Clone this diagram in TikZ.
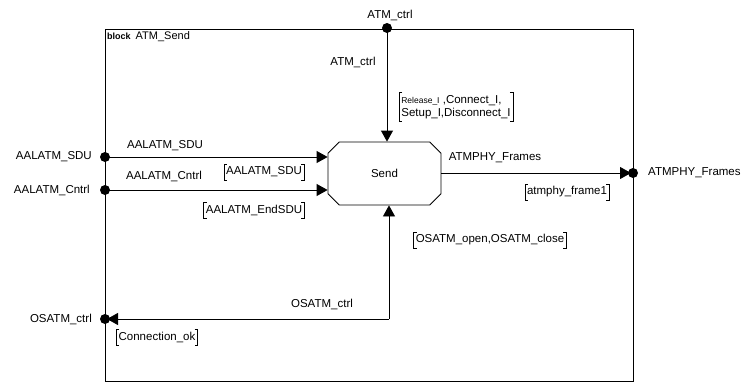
\documentclass[tikz,border=0pt]{standalone}
\usepackage{fontspec}
\setmainfont{Liberation Sans}
\usetikzlibrary{arrows.meta,positioning,shapes.misc,calc}
\newcommand{\sigbrk}[1]{%
  \draw[line width=0.6pt]
    ([xshift=3pt]#1.north west) -- (#1.north west) -- (#1.south west) -- ([xshift=3pt]#1.south west)
    ([xshift=-3pt]#1.north east) -- (#1.north east) -- (#1.south east) -- ([xshift=-3pt]#1.south east);}
\begin{document}
\begin{tikzpicture}[x=1pt,y=-1pt,
          font=\fontsize{11.5}{13}\selectfont,
          sig/.style={-{Triangle[length=11pt,width=12pt]},line width=0.8pt},
          lbl/.style={inner sep=1pt},
          siglist/.style={inner xsep=2pt,inner ysep=2.5pt}]
        \useasboundingbox (0,0) rectangle (742,383);
        % block frame
        \draw[line width=0.8pt] (105,29) rectangle (633,381);
        \node[anchor=north west,lbl] (title) at (106,30)
          {\fontsize{9}{10}\selectfont\textbf{block}\ \ \fontsize{11}{13}\selectfont ATM\_Send};
        % process
        \node[draw,line width=0.8pt,chamfered rectangle,
              chamfered rectangle xsep=7pt,chamfered rectangle ysep=7pt,
              minimum width=113pt,minimum height=63pt,inner sep=0pt] (send) at (384.5,173.5) {Send};
        % ports
        \coordinate (pAtm) at (387,28);
        \coordinate (pSdu) at (105,157);
        \coordinate (pCntrl) at (105,190);
        \coordinate (pPhy) at (633,173);
        \coordinate (pOs) at (105,319);
        \coordinate (osBend) at (389,319);
        % channels
        \draw[sig] (pAtm) -- (pAtm |- send.north);
        \draw[sig] (pSdu) -- (pSdu -| send.west);
        \draw[sig] (pCntrl) -- (pCntrl -| send.west);
        \draw[sig,shorten >=2pt] (pPhy -| send.east) -- (pPhy);
        \draw[sig] (osBend) -- (osBend |- send.south);
        \draw[sig,shorten >=2pt] (osBend) -- (pOs);
        \foreach \p in {pAtm,pSdu,pCntrl,pPhy,pOs}
          \fill (\p) circle (5pt);
        % outer names
        \node[lbl,above=6pt of pAtm,xshift=3pt] (nAtm) {ATM\_ctrl};
        \node[lbl,left=12pt of pSdu] (nSdu) {AALATM\_SDU};
        \node[lbl,left=14pt of pCntrl] (nCntrl) {AALATM\_Cntrl};
        \node[lbl,left=12pt of pOs] (nOs) {OSATM\_ctrl};
        \node[lbl,right=14pt of pPhy] (nPhy) {ATMPHY\_Frames};
        % channel names
        \node[lbl] (cAtm) at (353,62) {ATM\_ctrl};
        \node[lbl] (cSdu) at (165,146) {AALATM\_SDU};
        \node[lbl] (cCntrl) at (164,176) {AALATM\_Cntrl};
        \node[lbl] (cPhy) at (495,158) {ATMPHY\_Frames};
        \node[lbl] (cOs) at (322,304) {OSATM\_ctrl};
        % signal lists
        \node[siglist,align=left] (slRel) at (456,107)
          {{\fontsize{8.5}{10}\selectfont Release\_I} ,Connect\_I,\\Setup\_I,Disconnect\_I};
        \node[siglist] (slSdu) at (264,172) {AALATM\_SDU};
        \node[siglist] (slEnd) at (254,210) {AALATM\_EndSDU};
        \node[siglist] (slPhy) at (567,192) {atmphy\_frame1};
        \node[siglist] (slOsatm) at (490,240) {OSATM\_open,OSATM\_close};
        \node[siglist] (slConn) at (157,337) {Connection\_ok};
        \foreach \s in {slRel,slSdu,slEnd,slPhy,slOsatm,slConn}
          {\sigbrk{\s}}
      \end{tikzpicture}
\end{document}
